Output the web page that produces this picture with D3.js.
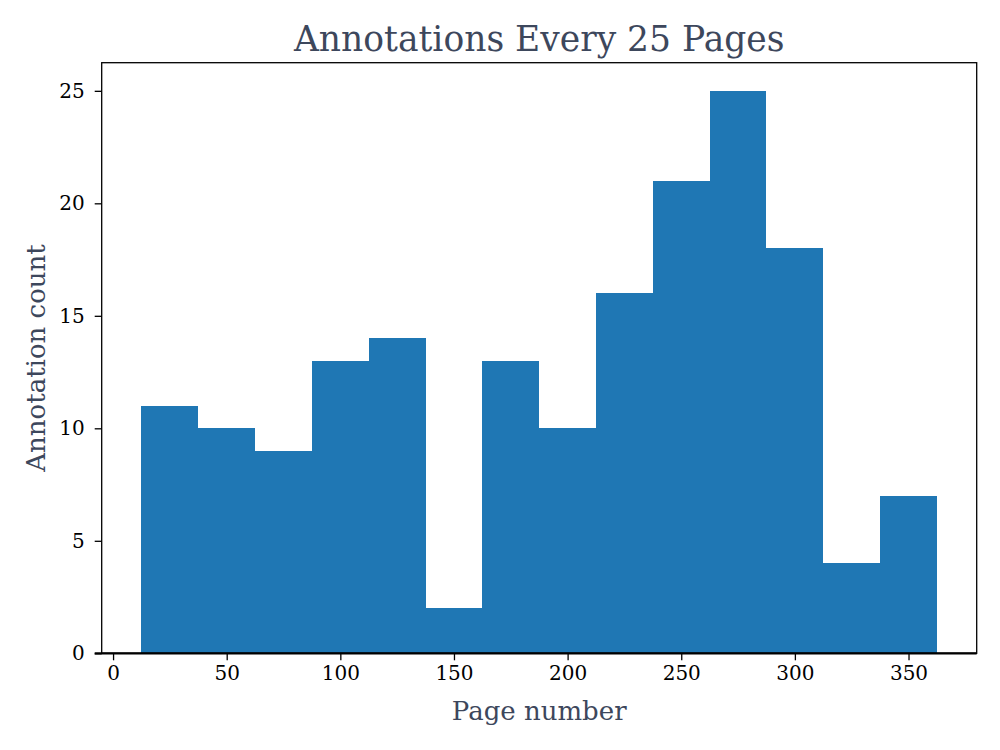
<!DOCTYPE html>
<html>
<head>
<meta charset="utf-8">
<script src="https://cdn.jsdelivr.net/npm/d3@7"></script>
<style>
  body { margin: 0; background: #fff; }
  text { font-family: "DejaVu Serif", serif; }
</style>
</head>
<body>
<div id="chart"></div>
<script>
// histogram bins: 25 pages each
var binStarts = [12.5, 37.5, 62.5, 87.5, 112.5, 137.5, 162.5, 187.5, 212.5, 237.5, 262.5, 287.5, 312.5, 337.5];
var binWidth = 25;
var counts = [11, 10, 9, 13, 14, 2, 13, 10, 16, 21, 25, 18, 4, 7];
var xTicks = [0, 50, 100, 150, 200, 250, 300, 350];
var yTicks = [0, 5, 10, 15, 20, 25];

var w = 1000, h = 750;
var plotLeft = 101.7, plotRight = 976.7, plotTop = 62.7, plotBottom = 653.3;
var labelColor = "#3d475c";

var svg = d3.select('#chart').append('svg')
  .attr('width', w)
  .attr('height', h);

var x = d3.scaleLinear().domain([-5, 380]).range([plotLeft, plotRight]);
var y = d3.scaleLinear().domain([0, 26.25]).range([plotBottom, plotTop]);

// bars
svg.selectAll('rect.bar')
  .data(counts)
  .enter().append('rect')
  .attr('class', 'bar')
  .attr('x', function(d, i) { return x(binStarts[i]); })
  .attr('width', function(d, i) { return x(binStarts[i] + binWidth) - x(binStarts[i]); })
  .attr('y', function(d) { return y(d); })
  .attr('height', function(d) { return y(0) - y(d); })
  .attr('fill', '#1f77b4')
  .attr('shape-rendering', 'crispEdges');

// axes
var xAxis = svg.append('g')
  .attr('transform', 'translate(0,' + plotBottom + ')')
  .call(d3.axisBottom(x).tickValues(xTicks).tickSize(7).tickPadding(6));
var yAxis = svg.append('g')
  .attr('transform', 'translate(' + plotLeft + ',0)')
  .call(d3.axisLeft(y).tickValues(yTicks).tickSize(7).tickPadding(10));

[xAxis, yAxis].forEach(function(a) {
  a.select('.domain').remove();
  a.selectAll('text').attr('font-size', 20).attr('fill', '#000')
    .style('font-family', '"DejaVu Serif", serif');
  a.selectAll('line').attr('stroke', '#000').attr('stroke-width', 1.3);
});

// spines
svg.append('rect')
  .attr('x', plotLeft).attr('y', plotTop)
  .attr('width', plotRight - plotLeft).attr('height', plotBottom - plotTop)
  .attr('fill', 'none').attr('stroke', '#000').attr('stroke-width', 1.3);
svg.append('line')
  .attr('x1', plotLeft - 7).attr('x2', plotRight)
  .attr('y1', plotBottom).attr('y2', plotBottom)
  .attr('stroke', '#000').attr('stroke-width', 2.2);

// title and labels
svg.append('text')
  .attr('x', (plotLeft + plotRight) / 2).attr('y', 50.5)
  .attr('text-anchor', 'middle')
  .attr('font-size', 34.5).attr('fill', labelColor)
  .text('Annotations Every 25 Pages');

svg.append('text')
  .attr('x', (plotLeft + plotRight) / 2).attr('y', 720)
  .attr('text-anchor', 'middle')
  .attr('font-size', 26).attr('fill', labelColor)
  .text('Page number');

svg.append('text')
  .attr('transform', 'translate(45,' + ((plotTop + plotBottom) / 2) + ') rotate(-90)')
  .attr('text-anchor', 'middle')
  .attr('font-size', 26).attr('fill', labelColor)
  .text('Annotation count');
</script>
</body>
</html>
